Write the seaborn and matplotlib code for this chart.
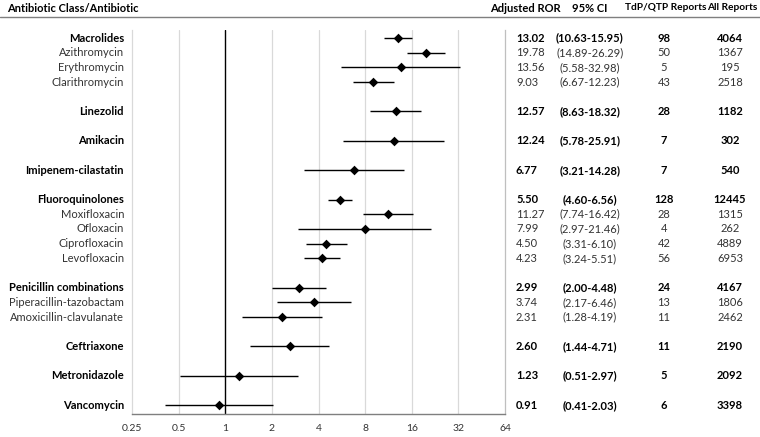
import numpy as np
import pandas as pd
import matplotlib
matplotlib.use("Agg")
import matplotlib.pyplot as plt
import matplotlib.transforms as mtransforms
import seaborn as sns

# ---- data ----
names = ["Macrolides", "Azithromycin", "Erythromycin", "Clarithromycin",
         "Linezolid", "Amikacin", "Imipenem-cilastatin",
         "Fluoroquinolones", "Moxifloxacin", "Ofloxacin", "Ciprofloxacin", "Levofloxacin",
         "Penicillin combinations", "Piperacillin-tazobactam", "Amoxicillin-clavulanate",
         "Ceftriaxone", "Metronidazole", "Vancomycin"]
is_class = [True, False, False, False,
            True, True, True,
            True, False, False, False, False,
            True, False, False,
            True, True, True]
group_id = [0, 0, 0, 0, 1, 2, 3, 4, 4, 4, 4, 4, 5, 5, 5, 6, 7, 8]
ror = [13.02, 19.78, 13.56, 9.03, 12.57, 12.24, 6.77, 5.50, 11.27, 7.99, 4.50, 4.23,
       2.99, 3.74, 2.31, 2.60, 1.23, 0.91]
ci_lo = [10.63, 14.89, 5.58, 6.67, 8.63, 5.78, 3.21, 4.60, 7.74, 2.97, 3.31, 3.24,
         2.00, 2.17, 1.28, 1.44, 0.51, 0.41]
ci_hi = [15.95, 26.29, 32.98, 12.23, 18.32, 25.91, 14.28, 6.56, 16.42, 21.46, 6.10, 5.51,
         4.48, 6.46, 4.19, 4.71, 2.97, 2.03]
tdp_reports = [98, 50, 5, 43, 28, 7, 7, 128, 28, 4, 42, 56, 24, 13, 11, 11, 5, 6]
all_reports = [4064, 1367, 195, 2518, 1182, 302, 540, 12445, 1315, 262, 4889, 6953,
               4167, 1806, 2462, 2190, 2092, 3398]
xticks = [0.25, 0.5, 1, 2, 4, 8, 16, 32, 64]
xtick_labels = ["0.25", "0.5", "1", "2", "4", "8", "16", "32", "64"]
headers = ["Antibiotic Class/Antibiotic", "Adjusted ROR", "95% CI", "TdP/QTP Reports", "All Reports"]

# row positions: one blank row between groups
pos = []
p = -1
prev = group_id[0]
for g in group_id:
    p += 1
    if g != prev:
        p += 1
        prev = g
    pos.append(p)

df = pd.DataFrame({"name": names, "cls": is_class, "ror": ror, "lo": ci_lo, "hi": ci_hi,
                   "tdp": tdp_reports, "all": all_reports, "pos": pos})

# ---- figure ----
sns.set_theme(style="white")
plt.rcParams["font.family"] = ["Lato", "DejaVu Sans"]
fig = plt.figure(figsize=(7.6, 4.37), dpi=100)
W, H = 760, 437
ax = fig.add_axes([132 / W, 1 - 414 / H, (505 - 132) / W, (414 - 30) / H])

ax.set_xscale("log", base=2)
ax.set_xlim(0.25, 64)
ax.set_ylim(25.6, -0.55)

for t in xticks[1:-1]:
    if t == 1:
        continue
    ax.axvline(t, color="#d9d9d9", lw=0.9, zorder=0)
ax.axvline(1, color="black", lw=1.0, zorder=1)

ax.hlines(df["pos"], df["lo"], df["hi"], color="black", lw=1.0, zorder=2)
sns.scatterplot(data=df, x="ror", y="pos", marker="D", color="black", s=24,
                edgecolor="black", linewidth=0, ax=ax, zorder=3, legend=False)

ax.set_xticks(xticks)
ax.set_xticklabels(xtick_labels)
ax.tick_params(axis="x", length=0, labelsize=7.5, colors="#333333", pad=7)
ax.set_yticks([])
ax.set_xlabel("")
ax.set_ylabel("")
ax.spines["top"].set_visible(False)
ax.spines["left"].set_color("#d9d9d9")
ax.spines["left"].set_linewidth(0.9)
ax.spines["right"].set_color("#bfbfbf")
ax.spines["right"].set_linewidth(0.9)
ax.spines["bottom"].set_color("#7f7f7f")
ax.spines["bottom"].set_linewidth(1.0)

tr = mtransforms.blended_transform_factory(fig.transFigure, ax.transData)
fs = 8
for _, r in df.iterrows():
    w = "bold" if r["cls"] else "normal"
    c = "black" if r["cls"] else "#333333"
    kw = dict(transform=tr, fontsize=fs, fontweight=w, color=c, va="center")
    fig.text(124 / W, r["pos"], r["name"], ha="right", **kw)
    fig.text(516 / W, r["pos"], f"{r['ror']:.2f}", ha="left", **kw)
    fig.text(590 / W, r["pos"], f"({r['lo']:.2f}-{r['hi']:.2f})", ha="center", **kw)
    fig.text(664 / W, r["pos"], f"{int(r['tdp'])}", ha="center", **kw)
    fig.text(730 / W, r["pos"], f"{int(r['all'])}", ha="center", **kw)

hy = 1 - 8 / H
hkw = dict(fontweight="bold", color="black", va="center")
fig.text(7 / W, hy, headers[0], ha="left", fontsize=fs, **hkw)
fig.text(525 / W, hy, headers[1], ha="center", fontsize=fs, **hkw)
fig.text(590 / W, hy, headers[2], ha="center", fontsize=fs, **hkw)
fig.text(625 / W, hy, headers[3], ha="left", fontsize=7.3, **hkw)
fig.text(757 / W, hy, headers[4], ha="right", fontsize=7.3, **hkw)
fig.add_artist(plt.Line2D([0, 1], [1 - 17 / H, 1 - 17 / H], transform=fig.transFigure,
                          color="#7f7f7f", lw=1.0))

fig.savefig("out.png", dpi=100)
